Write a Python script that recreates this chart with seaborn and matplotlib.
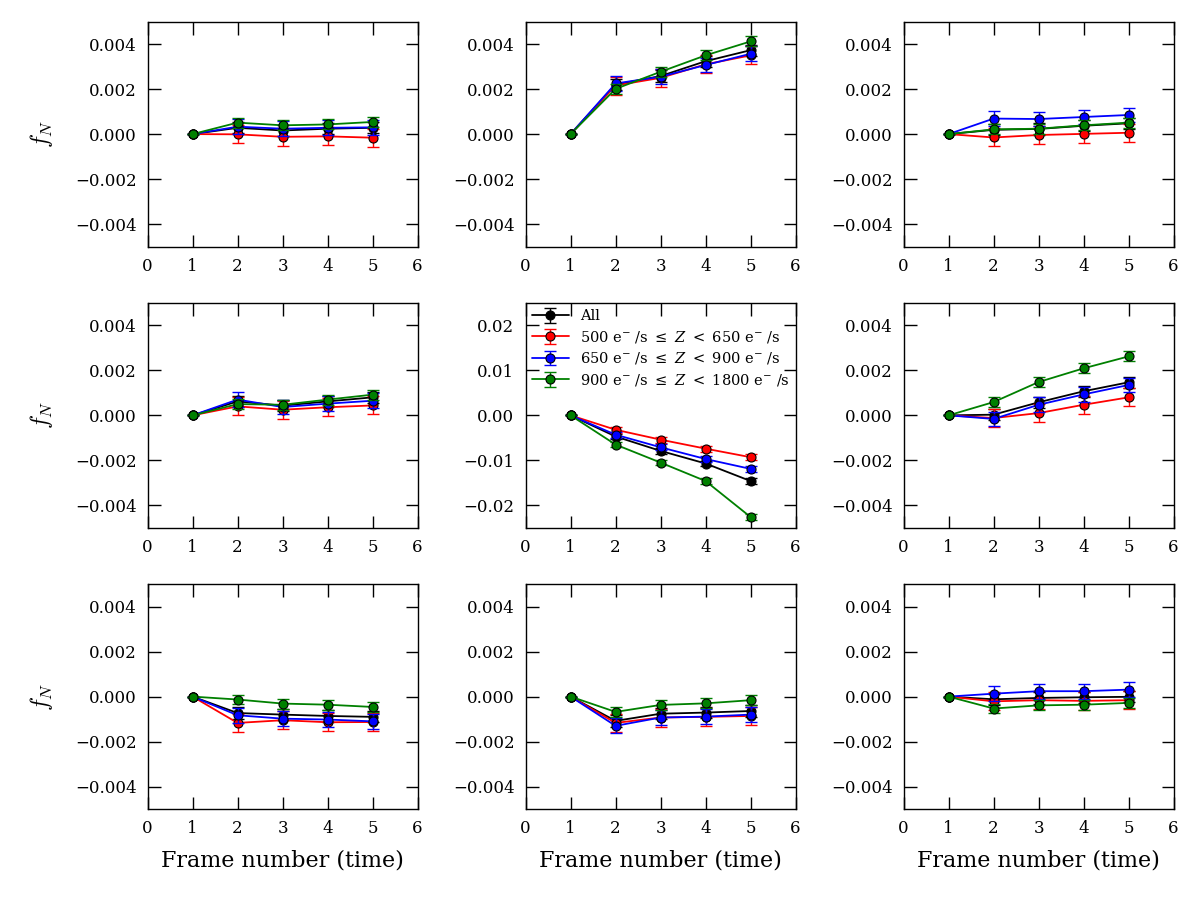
import matplotlib
matplotlib.use("Agg")
import matplotlib.pyplot as plt
import seaborn as sns
import numpy as np
import pandas as pd
from matplotlib.legend_handler import HandlerTuple
from matplotlib.font_manager import FontProperties

frames = [1, 2, 3, 4, 5]
series_names = ["All",
                r"500 e$^{-}$ /s $\leq\ Z\ <$ 650 e$^{-}$ /s",
                r"650 e$^{-}$ /s $\leq\ Z\ <$ 900 e$^{-}$ /s",
                r"900 e$^{-}$ /s $\leq\ Z\ <$ 1800 e$^{-}$ /s"]
series_colors = ["black", "red", "blue", "green"]

# values per panel (row-major), per series: All, 500-650, 650-900, 900-1800
p1_all = [0, 0.00028, 0.00016, 0.00024, 0.00028]
p1_r = [0, -0.00001, -0.00012, -0.00010, -0.00016]
p1_b = [0, 0.00033, 0.00024, 0.00028, 0.00030]
p1_g = [0, 0.00051, 0.00039, 0.00043, 0.00054]

p2_all = [0, 0.00220, 0.00258, 0.00324, 0.00373]
p2_r = [0, 0.00216, 0.00250, 0.00310, 0.00350]
p2_b = [0, 0.00225, 0.00255, 0.00307, 0.00357]
p2_g = [0, 0.00201, 0.00277, 0.00350, 0.00412]

p3_all = [0, 0.00019, 0.00023, 0.00037, 0.00048]
p3_r = [0, -0.00015, -0.00004, 0.00001, 0.00006]
p3_b = [0, 0.00069, 0.00067, 0.00076, 0.00085]
p3_g = [0, 0.00021, 0.00024, 0.00039, 0.00051]

p4_all = [0, 0.00062, 0.00043, 0.00062, 0.00080]
p4_r = [0, 0.00040, 0.00025, 0.00036, 0.00044]
p4_b = [0, 0.00070, 0.00037, 0.00052, 0.00065]
p4_g = [0, 0.00050, 0.00047, 0.00070, 0.00092]

p5_all = [0, -0.0047, -0.0079, -0.0107, -0.0146]
p5_r = [0, -0.0032, -0.0054, -0.0074, -0.0093]
p5_b = [0, -0.0043, -0.0071, -0.0097, -0.0119]
p5_g = [0, -0.0065, -0.0105, -0.0146, -0.0226]

p6_all = [0, 0.00003, 0.00058, 0.00107, 0.00147]
p6_r = [0, -0.00012, 0.00010, 0.00047, 0.00080]
p6_b = [0, -0.00016, 0.00047, 0.00093, 0.00135]
p6_g = [0, 0.00059, 0.00148, 0.00209, 0.00262]

p7_all = [0, -0.00073, -0.00080, -0.00086, -0.00090]
p7_r = [0, -0.00117, -0.00105, -0.00114, -0.00113]
p7_b = [0, -0.00083, -0.00098, -0.00102, -0.00110]
p7_g = [0, -0.00013, -0.00031, -0.00036, -0.00046]

p8_all = [0, -0.00108, -0.00076, -0.00071, -0.00064]
p8_r = [0, -0.00117, -0.00093, -0.00090, -0.00086]
p8_b = [0, -0.00130, -0.00093, -0.00089, -0.00080]
p8_g = [0, -0.00068, -0.00037, -0.00030, -0.00016]

p9_all = [0, -0.00012, -0.00006, -0.00003, -0.00001]
p9_r = [0, -0.00021, -0.00016, -0.00019, -0.00016]
p9_b = [0, 0.00013, 0.00024, 0.00024, 0.00031]
p9_g = [0, -0.00053, -0.00039, -0.00036, -0.00028]

# error bar half-widths per series
err_small = [0.00025, 0.00040, 0.00033, 0.00022]
err_big = [0.0006, 0.0007, 0.0007, 0.0006]

panels = [
    [p1_all, p1_r, p1_b, p1_g],
    [p2_all, p2_r, p2_b, p2_g],
    [p3_all, p3_r, p3_b, p3_g],
    [p4_all, p4_r, p4_b, p4_g],
    [p5_all, p5_r, p5_b, p5_g],
    [p6_all, p6_r, p6_b, p6_g],
    [p7_all, p7_r, p7_b, p7_g],
    [p8_all, p8_r, p8_b, p8_g],
    [p9_all, p9_r, p9_b, p9_g],
]

sns.set_style("ticks")
plt.rcParams.update({
    "font.family": ["DejaVu Serif"],
    "mathtext.fontset": "cm",
    "text.color": "black",
    "axes.labelcolor": "black",
    "xtick.direction": "in",
    "ytick.direction": "in",
    "xtick.top": True,
    "ytick.right": True,
    "xtick.major.size": 9,
    "ytick.major.size": 9,
    "xtick.major.width": 1.0,
    "ytick.major.width": 1.0,
    "axes.linewidth": 1.0,
    "axes.edgecolor": "black",
    "xtick.color": "black",
    "ytick.color": "black",
    "xtick.labelcolor": "black",
    "ytick.labelcolor": "black",
    "xtick.labelsize": 12,
    "ytick.labelsize": 12,
    "xtick.major.pad": 8,
    "ytick.major.pad": 8,
})

fig, axes = plt.subplots(3, 3, figsize=(12, 9), dpi=100)
fig.subplots_adjust(left=0.123, right=0.978, top=0.976, bottom=0.101,
                    wspace=0.40, hspace=0.25)

legend_font = FontProperties(family="DejaVu Serif", size=10.5,
                             math_fontfamily="dejavuserif")

for i, ax in enumerate(axes.flat):
    big = (i == 4)
    handles = []
    for s, (vals, col, name) in enumerate(zip(panels[i], series_colors, series_names)):
        e = err_big[s] if big else err_small[s]
        yerr = [0.0] + [e] * 4
        df = pd.DataFrame({"frame": frames, "f": vals})
        sns.lineplot(data=df, x="frame", y="f", ax=ax, color=col, marker="o",
                     markersize=6.5, markeredgecolor="black", markeredgewidth=0.8,
                     linewidth=1.3, legend=False, zorder=3 + s)
        line = ax.get_lines()[-1]
        eb = ax.errorbar(frames, vals, yerr=yerr, fmt="none", ecolor=col,
                         elinewidth=1.0, capsize=4, capthick=1.0, zorder=2 + s)
        handles.append((eb, line))
    ax.set_xlim(0, 6)
    ax.set_xticks([0, 1, 2, 3, 4, 5, 6])
    if big:
        ax.set_ylim(-0.025, 0.025)
        ax.set_yticks([-0.02, -0.01, 0.0, 0.01, 0.02])
        ax.set_yticklabels(["\u22120.02", "\u22120.01", "0.00", "0.01", "0.02"])
        ax.legend(handles, series_names, loc="upper left", frameon=False,
                  prop=legend_font, handlelength=2.5, handletextpad=0.8,
                  borderaxespad=0.25, borderpad=0.2, labelspacing=0.38,
                  handler_map={tuple: HandlerTuple(ndivide=1)})
    else:
        ax.set_ylim(-0.005, 0.005)
        ax.set_yticks([-0.004, -0.002, 0.0, 0.002, 0.004])
        ax.set_yticklabels(["\u22120.004", "\u22120.002", "0.000", "0.002", "0.004"])
    ax.set_xlabel("")
    ax.set_ylabel("")
    if i % 3 == 0:
        ax.set_ylabel(r"$f_N$", fontsize=17, labelpad=14)
    if i >= 6:
        ax.set_xlabel("Frame number (time)", fontsize=16, labelpad=9)

fig.savefig("out.png", dpi=100)
